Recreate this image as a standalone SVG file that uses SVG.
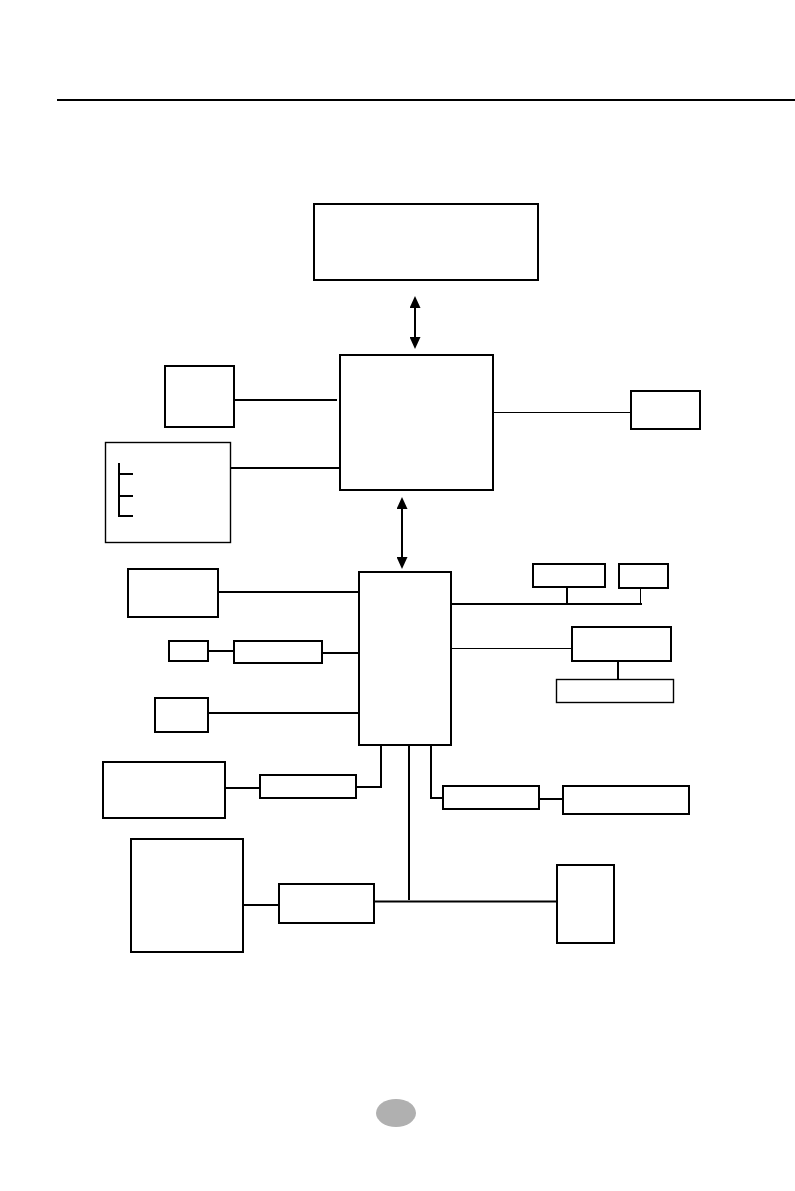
<svg xmlns="http://www.w3.org/2000/svg" width="795" height="1191" viewBox="0 0 795 1191">
<defs>
<marker id="ah" viewBox="0 0 12 11" refX="2" refY="5.5" markerWidth="12" markerHeight="11" markerUnits="userSpaceOnUse" orient="auto-start-reverse">
<path d="M0,0 L12,5.5 L0,11 z" fill="#000"/>
</marker>
</defs>
<style>
rect.b{fill:#fff;stroke:#000;stroke-width:2}
rect.t{fill:#fff;stroke:#000;stroke-width:1.4}
.c line,.c path{fill:none;stroke:#000;stroke-width:2}
.c .thin{stroke-width:1}
</style>
<rect width="795" height="1191" fill="#fff"/>
<line x1="57" y1="100" x2="795" y2="100" stroke="#000" stroke-width="2"/>
<g id="n-top"><rect class="b" x="314" y="204" width="224" height="76"/></g>
<g id="n-cpu"><rect class="b" x="340" y="355" width="153" height="135"/></g>
<g id="n-left1"><rect class="b" x="165" y="366" width="69" height="61"/></g>
<g id="n-list"><rect class="t" x="105.5" y="442.5" width="125" height="100"/></g>
<g id="n-right1"><rect class="b" x="631" y="391" width="69" height="38"/></g>
<g id="n-chipset"><rect class="b" x="359" y="572" width="92" height="173"/></g>
<g id="n-a"><rect class="b" x="128" y="569" width="90" height="48"/></g>
<g id="n-tiny"><rect class="b" x="169" y="641" width="39" height="20"/></g>
<g id="n-b"><rect class="b" x="234" y="641" width="88" height="22"/></g>
<g id="n-c"><rect class="b" x="155" y="698" width="53" height="34"/></g>
<g id="n-d"><rect class="b" x="103" y="762" width="122" height="56"/></g>
<g id="n-e"><rect class="b" x="260" y="775" width="96" height="23"/></g>
<g id="n-f"><rect class="b" x="131" y="839" width="112" height="113"/></g>
<g id="n-g"><rect class="b" x="279" y="884" width="95" height="39"/></g>
<g id="n-h"><rect class="b" x="557" y="865" width="57" height="78"/></g>
<g id="n-i"><rect class="b" x="533" y="564" width="72" height="23"/></g>
<g id="n-j"><rect class="b" x="619" y="564" width="49" height="24"/></g>
<g id="n-k"><rect class="b" x="572" y="627" width="99" height="34"/></g>
<g id="n-l"><rect class="t" x="556.5" y="679.5" width="117" height="23"/></g>
<g id="n-m"><rect class="b" x="443" y="786" width="96" height="23"/></g>
<g id="n-n"><rect class="b" x="563" y="786" width="126" height="28"/></g>
<g id="connectors" class="c">
<line x1="415" y1="306" x2="415" y2="339" marker-start="url(#ah)" marker-end="url(#ah)"/>
<line x1="402" y1="507" x2="402" y2="559" marker-start="url(#ah)" marker-end="url(#ah)"/>
<line x1="235" y1="400" x2="337" y2="400"/>
<line x1="231" y1="468" x2="339" y2="468"/>
<path d="M119,463 V517 M119,474 H133 M119,496 H133 M119,516 H133"/>
<line class="thin" x1="494" y1="412.5" x2="630" y2="412.5"/>
<line x1="219" y1="592" x2="358" y2="592"/>
<line x1="209" y1="651" x2="233" y2="651"/>
<line x1="323" y1="653" x2="358" y2="653"/>
<line x1="209" y1="713" x2="358" y2="713"/>
<line x1="226" y1="788" x2="259" y2="788"/>
<path d="M357,787 H381 V746"/>
<line x1="409" y1="746" x2="409" y2="900"/>
<path d="M431,746 V798 H442"/>
<line x1="540" y1="799" x2="562" y2="799"/>
<line x1="244" y1="905" x2="278" y2="905"/>
<line x1="375" y1="901.5" x2="556" y2="901.5"/>
<line x1="450" y1="604" x2="642" y2="604"/>
<line x1="567" y1="588" x2="567" y2="604"/>
<line class="thin" x1="640.5" y1="587" x2="640.5" y2="604"/>
<line class="thin" x1="452" y1="648.5" x2="571" y2="648.5"/>
<line x1="618" y1="662" x2="618" y2="679"/>
</g>
<ellipse cx="396" cy="1113" rx="20" ry="14" fill="#b0b0b0"/>
</svg>
